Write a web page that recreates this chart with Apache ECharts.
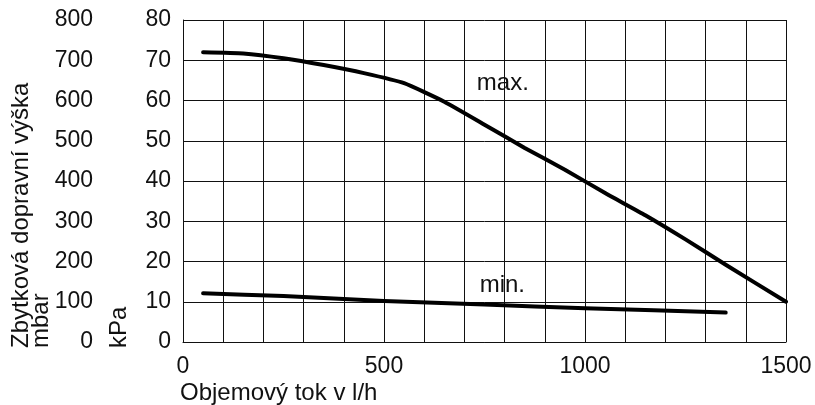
<!DOCTYPE html>
<html>
<head>
<meta charset="utf-8">
<script src="https://cdn.jsdelivr.net/npm/echarts@6/dist/echarts.min.js"></script>
<style>
html,body{margin:0;padding:0;background:#fff;}
#chart{width:815px;height:405px;}
</style>
</head>
<body>
<div id="chart"></div>
<script>
// Data
const flowMax = [50,150,250,350,450,550,650,750,850,950,1050,1150,1250,1350,1500];
const headMax = [72,71.7,70.5,68.8,66.8,64.3,59.7,54.0,48.2,42.8,37.0,31.5,25.5,19.2,10];
const flowMin = [50,250,500,750,1000,1350];
const headMin = [12.1,11.4,10.2,9.3,8.4,7.3];
const xTickLabels = [0,500,1000,1500];
const kpaTicks = [0,10,20,30,40,50,60,70,80];
const mbarTicks = [0,100,200,300,400,500,600,700,800];
const curveLabels = [
  {name:'max.', coord:[731,64.3]},
  {name:'min.', coord:[738,14.1]}
];
const xTitle = 'Objemový tok v l/h';
const yTitle1 = 'Zbytková dopravní výška';
const yTitle2 = 'mbar';
const yTitle3 = 'kPa';

const FONT = 'Liberation Sans, Arial, Helvetica, sans-serif';
const FS = 23;
const FT = 24;
const INK = '#111';

const chart = echarts.init(document.getElementById('chart'), null, {renderer:'canvas'});

function pairs(xs, ys){ return xs.map((x,i)=>[x, ys[i]]); }

const option = {
  animation: false,
  backgroundColor: '#fff',
  grid: {left:183, top:20, right:29, bottom:63, containLabel:false},
  xAxis: {
    type:'value', min:0, max:1500, interval:100,
    axisLine:{show:true, onZero:false, lineStyle:{color:INK, width:1}},
    axisTick:{show:false},
    splitLine:{show:true, lineStyle:{color:INK, width:1}},
    axisLabel:{
      show:true, margin:13, color:INK, fontFamily:FONT, fontSize:FS,
      formatter: v => xTickLabels.indexOf(v) >= 0 ? String(v) : ''
    }
  },
  yAxis: [
    {
      type:'value', min:0, max:80, interval:10, position:'left',
      axisLine:{show:true, onZero:false, lineStyle:{color:INK, width:1}},
      axisTick:{show:false},
      splitLine:{show:true, lineStyle:{color:INK, width:1}},
      axisLabel:{
        show:true, margin:12, color:INK, fontFamily:FONT, fontSize:FS,
        padding:[7,0,0,0],
        formatter: v => kpaTicks.indexOf(v) >= 0 ? String(v) : ''
      }
    },
    {
      type:'value', min:0, max:800, interval:100, position:'left', offset:78,
      axisLine:{show:false}, axisTick:{show:false}, splitLine:{show:false},
      axisLabel:{
        show:true, margin:12, color:INK, fontFamily:FONT, fontSize:FS,
        padding:[7,0,0,0],
        formatter: v => mbarTicks.indexOf(v) >= 0 ? String(v) : ''
      }
    }
  ],
  series: [
    {
      type:'line', name:'max', yAxisIndex:0, data:pairs(flowMax, headMax),
      showSymbol:false, symbol:'none', smooth:0.15,
      lineStyle:{color:'#000', width:4, cap:'round', join:'round'},
      markPoint:{
        symbol:'circle', symbolSize:0,
        label:{show:true, position:'inside', align:'left', verticalAlign:'middle',
               color:INK, fontFamily:FONT, fontSize:FT, formatter: p => p.name},
        data:[{name:curveLabels[0].name, coord:curveLabels[0].coord}]
      }
    },
    {
      type:'line', name:'min', yAxisIndex:0, data:pairs(flowMin, headMin),
      showSymbol:false, symbol:'none', smooth:0.15,
      lineStyle:{color:'#000', width:4, cap:'round', join:'round'},
      markPoint:{
        symbol:'circle', symbolSize:0,
        label:{show:true, position:'inside', align:'left', verticalAlign:'middle',
               color:INK, fontFamily:FONT, fontSize:FT, formatter: p => p.name},
        data:[{name:curveLabels[1].name, coord:curveLabels[1].coord}]
      }
    }
  ],
  graphic: [
    {type:'text', x:180, y:393, style:{text:xTitle, font:FT+'px '+FONT, fill:INK, align:'left', verticalAlign:'middle'}},
    {type:'text', x:21, y:348, rotation:Math.PI/2, style:{text:yTitle1, font:FT+'px '+FONT, fill:INK, align:'left', verticalAlign:'middle'}},
    {type:'text', x:41, y:348, rotation:Math.PI/2, style:{text:yTitle2, font:FT+'px '+FONT, fill:INK, align:'left', verticalAlign:'middle'}},
    {type:'text', x:119, y:348, rotation:Math.PI/2, style:{text:yTitle3, font:FT+'px '+FONT, fill:INK, align:'left', verticalAlign:'middle'}}
  ]
};
chart.setOption(option);
</script>
</body>
</html>
